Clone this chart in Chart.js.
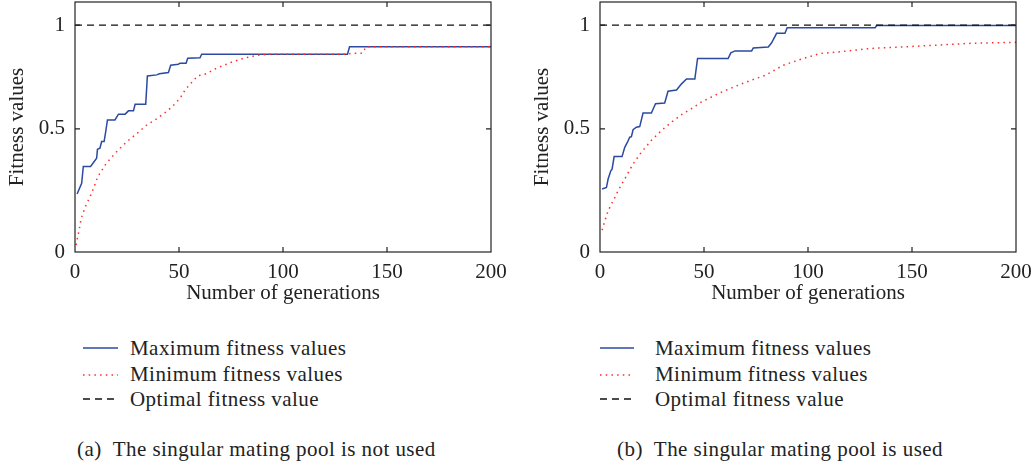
<!DOCTYPE html>
<html>
<head>
<meta charset="utf-8">
<script src="https://cdn.jsdelivr.net/npm/chart.js@4.4.1/dist/chart.umd.min.js"></script>
<style>
  body{margin:0;background:#fff;width:1033px;height:462px;position:relative;overflow:hidden;font-family:"Liberation Serif",serif;color:#222}
  canvas{position:absolute;top:0}
  .txt{position:absolute;font-size:21px;line-height:25px;white-space:nowrap;letter-spacing:0.45px}
  svg{position:absolute}
</style>
</head>
<body>
<canvas id="chartA" width="508" height="320" style="left:0"></canvas>
<canvas id="chartB" width="508" height="320" style="left:525px"></canvas>

<!-- legends + captions -->
<svg style="left:80px;top:340px" width="42" height="70">
  <line x1="3" y1="8" x2="38" y2="8" stroke="#2b4aa0" stroke-width="1.5"/>
  <line x1="3" y1="35" x2="38" y2="35" stroke="#ff2a2a" stroke-width="1.5" stroke-dasharray="1.5 4.2"/>
  <line x1="3" y1="59" x2="38" y2="59" stroke="#111" stroke-width="1.3" stroke-dasharray="7 5"/>
</svg>
<div class="txt" style="left:130px;top:336px">Maximum fitness values</div>
<div class="txt" style="left:130px;top:362px">Minimum fitness values</div>
<div class="txt" style="left:130px;top:387px">Optimal fitness value</div>
<div class="txt" style="left:77px;top:437px">(a)&nbsp; The singular mating pool is not used</div>

<svg style="left:597px;top:340px" width="42" height="70">
  <line x1="3" y1="8" x2="37" y2="8" stroke="#2b4aa0" stroke-width="1.5"/>
  <line x1="3" y1="35" x2="37" y2="35" stroke="#ff2a2a" stroke-width="1.5" stroke-dasharray="1.5 4.2"/>
  <line x1="3" y1="59" x2="37" y2="59" stroke="#111" stroke-width="1.3" stroke-dasharray="7 5"/>
</svg>
<div class="txt" style="left:655px;top:336px">Maximum fitness values</div>
<div class="txt" style="left:655px;top:362px">Minimum fitness values</div>
<div class="txt" style="left:655px;top:387px">Optimal fitness value</div>
<div class="txt" style="left:617px;top:437px">(b)&nbsp; The singular mating pool is used</div>

<script>
// x ticks / y ticks
const xTicks = [0, 50, 100, 150, 200];
const yTicks = [0, 0.5, 1];

// (a) singular mating pool not used
const genMaxA = [1, 3.2, 4, 7.5, 10.4, 10.8, 12, 12.8, 14, 14.9, 15.6, 19.2, 20.9, 24.1, 25.7, 28.1, 28.9, 34, 34.8, 39.3, 40.6, 44.9, 46, 49.7, 50.5, 53.4, 54.2, 60.1, 60.9, 131, 132, 200];
const maxA = [0.224, 0.267, 0.337, 0.337, 0.372, 0.410, 0.415, 0.444, 0.444, 0.495, 0.540, 0.540, 0.566, 0.566, 0.581, 0.581, 0.611, 0.611, 0.745, 0.750, 0.755, 0.761, 0.797, 0.802, 0.807, 0.807, 0.831, 0.834, 0.851, 0.851, 0.889, 0.889];
const genMinA = [0.5, 2, 3, 5, 8, 11, 15, 20, 25, 30, 34.5, 39, 44, 47, 50.5, 53, 55, 59, 63, 68, 76, 82, 89, 93, 131, 133, 138, 140, 200];
const minA = [0.026, 0.083, 0.128, 0.174, 0.227, 0.295, 0.35, 0.40, 0.444, 0.481, 0.517, 0.543, 0.578, 0.603, 0.639, 0.679, 0.702, 0.745, 0.755, 0.782, 0.815, 0.834, 0.848, 0.851, 0.851, 0.856, 0.856, 0.889, 0.889];

// (b) singular mating pool used
const genMaxB = [1, 3.1, 3.9, 5.2, 5.8, 6.8, 10.6, 11.9, 13.2, 14.3, 15.1, 15.9, 17.5, 19.1, 20.7, 24.7, 26.7, 31.1, 32.7, 36.8, 39.2, 41.6, 45.6, 46.9, 61.6, 62.9, 64.9, 72.9, 73.7, 80.9, 82.5, 84.9, 88.9, 90, 132.3, 133, 200];
const maxB = [0.244, 0.250, 0.285, 0.319, 0.326, 0.379, 0.379, 0.419, 0.441, 0.463, 0.465, 0.496, 0.507, 0.510, 0.571, 0.571, 0.614, 0.617, 0.672, 0.678, 0.707, 0.730, 0.730, 0.830, 0.830, 0.858, 0.868, 0.868, 0.883, 0.888, 0.909, 0.957, 0.957, 0.986, 0.986, 0.997, 0.997];
const genMinB = [1, 2.3, 3.9, 6.3, 8.7, 11.9, 15.9, 19.9, 24.7, 29.6, 34.4, 39.2, 44, 48.8, 53.6, 58.5, 63.3, 68.1, 74.5, 79.3, 88.1, 97.7, 105.8, 113.8, 121.8, 129.9, 145.9, 162, 178, 200];
const minB = [0.082, 0.117, 0.157, 0.196, 0.237, 0.285, 0.348, 0.398, 0.449, 0.493, 0.530, 0.564, 0.591, 0.622, 0.645, 0.668, 0.688, 0.707, 0.731, 0.747, 0.797, 0.830, 0.855, 0.862, 0.871, 0.880, 0.888, 0.897, 0.906, 0.911];

// optimal line
const optGen = [0, 200];
const optVal = [1, 1];

// the original y axis is not linear (0.5 sits near mid height) -> log-ish warp
const K = 0.41;
class WarpScale extends Chart.LinearScale {
  getPixelForValue(v){
    const d = Math.log(1 + K*v) / Math.log(1 + K*this.max);
    return this.getPixelForDecimal(d);
  }
  getValueForPixel(p){
    const d = this.getDecimalForPixel(p);
    return (Math.exp(d*Math.log(1 + K*this.max)) - 1) / K;
  }
}
WarpScale.id = "warp";
WarpScale.defaults = Chart.LinearScale.defaults;
Chart.register(WarpScale);

Chart.defaults.font.family = "'Liberation Serif', serif";
Chart.defaults.font.size = 21;
Chart.defaults.color = "#222";

// frame + inward tick marks, matlab style
const framePlugin = {
  id: "frame",
  afterDraw(chart){
    const {ctx, chartArea:a, scales} = chart;
    ctx.save();
    ctx.strokeStyle = "#222";
    ctx.lineWidth = 1.2;
    ctx.strokeRect(a.left, a.top, a.right-a.left, a.bottom-a.top);
    ctx.beginPath();
    scales.x.ticks.forEach(t=>{
      const px = scales.x.getPixelForValue(t.value);
      if(px <= a.left+1 || px >= a.right-1) return;
      ctx.moveTo(px, a.bottom); ctx.lineTo(px, a.bottom-5);
      ctx.moveTo(px, a.top); ctx.lineTo(px, a.top+5);
    });
    scales.y.ticks.forEach(t=>{
      const py = scales.y.getPixelForValue(t.value);
      if(py <= a.top+1 || py >= a.bottom-1) return;
      ctx.moveTo(a.left, py); ctx.lineTo(a.left+5, py);
      ctx.moveTo(a.right, py); ctx.lineTo(a.right-5, py);
    });
    ctx.stroke();
    ctx.restore();
  }
};

function pts(xs, ys){ return xs.map((x,i)=>({x, y: ys[i]})); }

function makeChart(id, gMax, vMax, gMin, vMin){
  return new Chart(document.getElementById(id), {
    type: "line",
    data: {
      datasets: [
        {label:"Optimal fitness value", data: pts(optGen, optVal), borderColor:"#111", borderWidth:1.3, borderDash:[7,5], order:0},
        {label:"Maximum fitness values", data: pts(gMax, vMax), borderColor:"#2b4aa0", borderWidth:1.5, order:2},
        {label:"Minimum fitness values", data: pts(gMin, vMin), borderColor:"#ff2a2a", borderWidth:1.5, borderDash:[1.5,4.2], order:1}
      ]
    },
    options: {
      responsive: false,
      animation: false,
      devicePixelRatio: 1,
      layout: {padding: {left:0, right:17, top:2, bottom:0}},
      elements: {point:{radius:0}, line:{tension:0, fill:false}},
      plugins: {legend:{display:false}, tooltip:{enabled:false}},
      scales: {
        x: {
          type: "linear", min: 0, max: 200,
          afterBuildTicks: s => { s.ticks = xTicks.map(v=>({value:v})); },
          afterFit: s => { s.height = 68; s.paddingLeft = 0; s.paddingRight = 0; },
          grid: {display:false, drawTicks:false},
          border: {display:false},
          ticks: {padding: 8, maxRotation:0, callback: v => String(v)},
          title: {display:true, text:"Number of generations", padding:{top:0, bottom:14}}
        },
        y: {
          type: "warp", min: 0, max: 1.122,
          afterBuildTicks: s => { s.ticks = yTicks.map(v=>({value:v})); },
          afterFit: s => { s.width = 75; s.paddingTop = 0; s.paddingBottom = 0; },
          grid: {display:false, drawTicks:false},
          border: {display:false},
          ticks: {padding: 10, callback: v => String(v)},
          title: {display:true, text:"Fitness values", padding:{top:5, bottom:0}}
        }
      }
    },
    plugins: [framePlugin]
  });
}

makeChart("chartA", genMaxA, maxA, genMinA, minA);
makeChart("chartB", genMaxB, maxB, genMinB, minB);
</script>
</body>
</html>
